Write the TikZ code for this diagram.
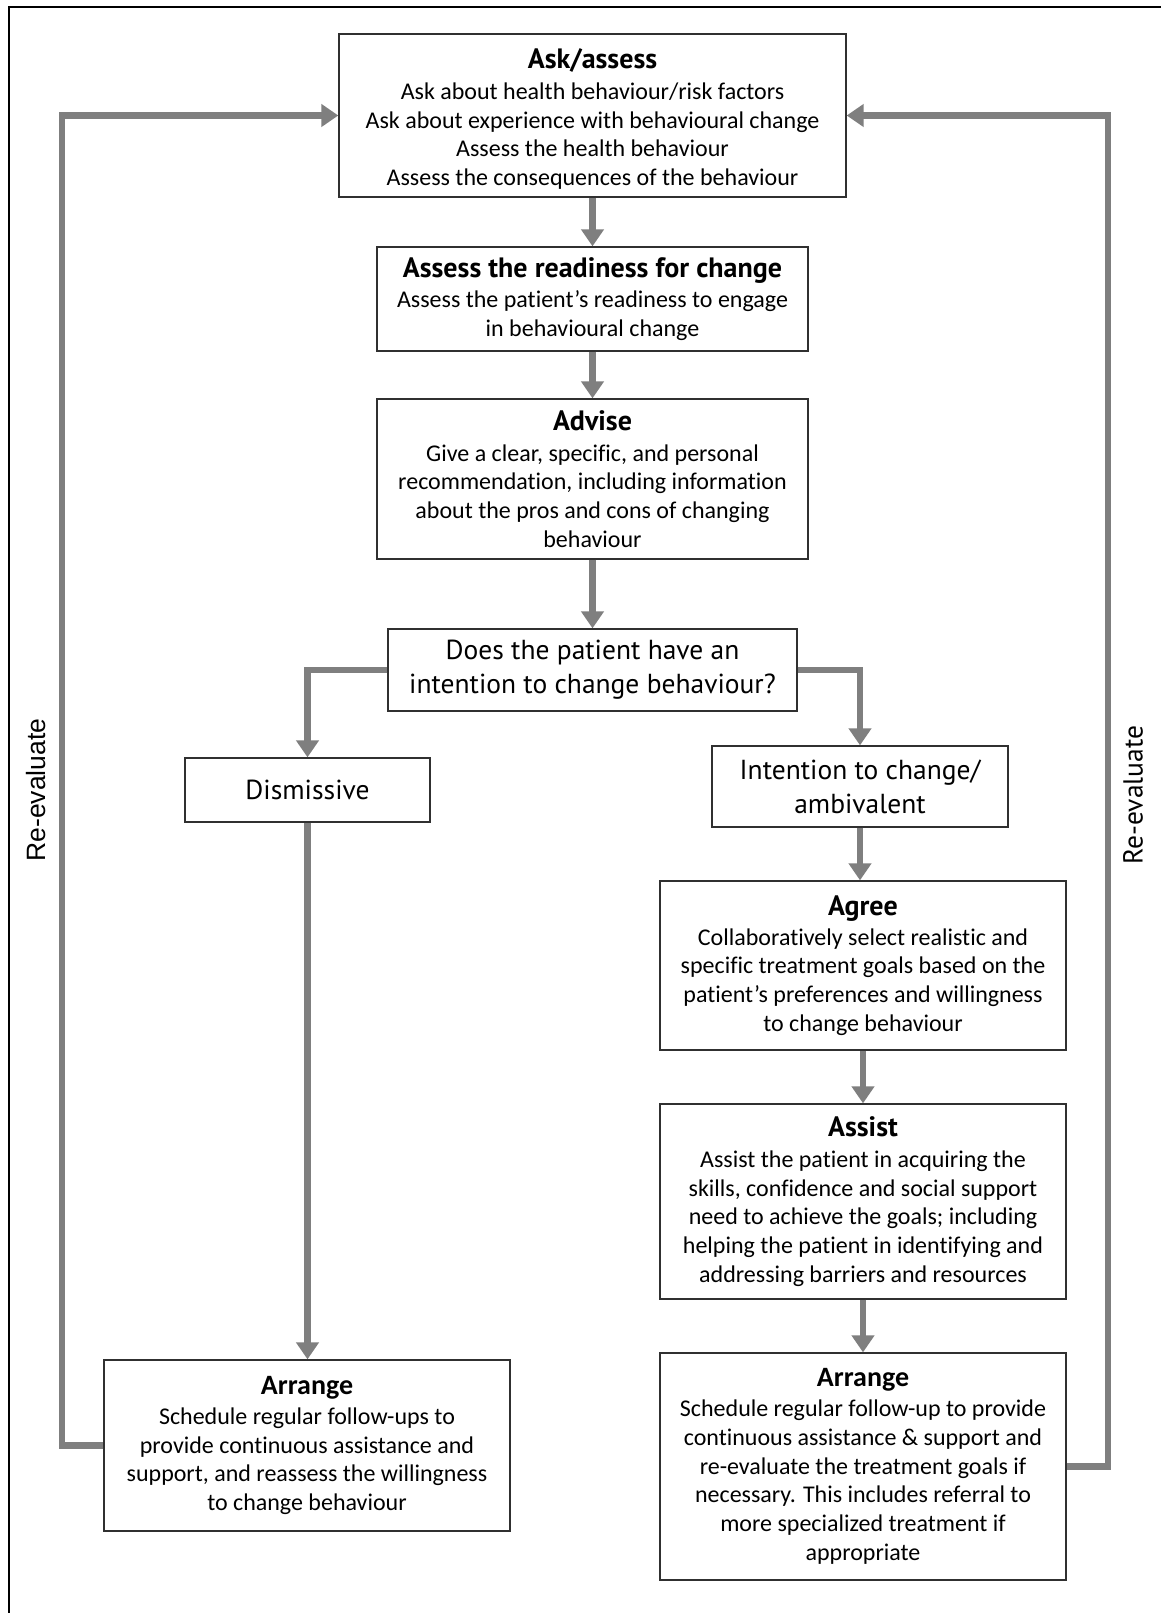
\documentclass[tikz,border=0pt]{standalone}
\usepackage{fontspec}
\setmainfont[Ligatures=NoCommon,RawFeature={-liga;-clig}]{Carlito}
\newfontfamily\dinf{PT Sans}
\newfontfamily\arialf{Liberation Sans}
\usetikzlibrary{arrows.meta}
\definecolor{arrgray}{HTML}{7F7F7F}
\definecolor{boxline}{HTML}{303030}
\tikzset{
  box/.style={draw=boxline, line width=1.3pt, fill=white, align=center, inner sep=0pt,
    font=\fontsize{24}{28.8}\selectfont},
  qbox/.style={box, font=\dinf\fontsize{27.5}{34}\selectfont},
  arr/.style={draw=arrgray, line width=6.5pt,
    -{Triangle[width=22pt,length=17pt]}},
  relabel/.style={rotate=90}
}
\newcommand{\ttl}[1]{{\dinf\bfseries\fontsize{28}{32}\selectfont #1}}
\newcommand{\ttlc}[1]{{\bfseries\fontsize{28}{32}\selectfont #1}}
\begin{document}
\begin{tikzpicture}[x=1pt,y=-1pt]
\useasboundingbox (0,0) rectangle (1161,1613);
\fill[white] (0,0) rectangle (1161,1613);
\draw[black, line width=2.5pt] (9,1613) -- (9,7) -- (1161,7);

\node[box, minimum width=507pt, minimum height=163pt] (ask) at (592.5,115.5)
  {\rule{0pt}{27pt}\ttl{Ask/assess}\\[2pt]
   Ask about health behaviour/risk factors\\
   Ask about experience with behavioural change\\
   Assess the health behaviour\\
   Assess the consequences of the behaviour};

\node[box, minimum width=431pt, minimum height=104pt] (ready) at (592.5,299)
  {\ttl{Assess the readiness for change}\\[2pt]
   Assess the patient’s readiness to engage\\
   in behavioural change};

\node[box, minimum width=431pt, minimum height=160pt] (advise) at (592.5,479)
  {\ttl{Advise}\\[2pt]
   Give a clear, specific, and personal\\
   recommendation, including information\\
   about the pros and cons of changing\\
   behaviour};

\node[qbox, minimum width=409pt, minimum height=82pt] (q) at (592.5,670)
  {Does the patient have an\\intention to change behaviour?};

\node[qbox, minimum width=245pt, minimum height=64pt] (dis) at (307.5,790)
  {Dismissive};

\node[qbox, minimum width=296pt, minimum height=81pt] (int) at (860,786.5)
  {Intention to change/\\ambivalent};

\node[box, minimum width=406pt, minimum height=169pt] (agree) at (863,965.5)
  {\ttl{Agree}\\[1pt]
   Collaboratively select realistic and\\
   specific treatment goals based on the\\
   patient’s preferences and willingness\\
   to change behaviour};

\node[box, minimum width=406pt, minimum height=195pt] (assist) at (863,1201.5)
  {\ttl{Assist}\\[2pt]
   Assist the patient in acquiring the\\
   skills, confidence and social support\\
   need to achieve the goals; including\\
   helping the patient in identifying and\\
   addressing barriers and resources};

\node[box, minimum width=406pt, minimum height=227pt] (arrR) at (863,1466.5)
  {\ttlc{Arrange}\\[1pt]
   Schedule regular follow-up to provide\\
   continuous assistance \& support and\\
   re-evaluate the treatment goals if\\
   necessary. This includes referral to\\
   more specialized treatment if\\
   appropriate};

\node[box, minimum width=406pt, minimum height=171pt] (arrL) at (307,1445.5)
  {\ttlc{Arrange}\\[1pt]
   Schedule regular follow-ups to\\
   provide continuous assistance and\\
   support, and reassess the willingness\\
   to change behaviour};

\coordinate (lx) at (62,0);
\coordinate (rx) at (1108,0);

\draw[arr] (ask.south) -- (ready.north);
\draw[arr] (ready.south) -- (advise.north);
\draw[arr] (advise.south) -- (q.north);
\draw[arr] (q.west) -| (dis.north);
\draw[arr] (q.east) -| (int.north);
\draw[arr] (dis.south) -- (dis.south |- arrL.north);
\draw[arr] (int.south) -- (int.south |- agree.north);
\draw[arr] (agree.south) -- (assist.north);
\draw[arr] (assist.south) -- (arrR.north);
\draw[arr] (arrL.west) -| (lx |- ask.west) -- (ask.west);
\draw[arr] (arrR.east) -| (rx |- ask.east) -- (ask.east);

\node[relabel, font=\arialf\fontsize{26.5}{30}\selectfont] (relL) at (36,790) {Re-evaluate};
\node[relabel, font=\dinf\fontsize{27.5}{30}\selectfont] (relR) at (1133,795) {Re-evaluate};
\end{tikzpicture}
\end{document}
